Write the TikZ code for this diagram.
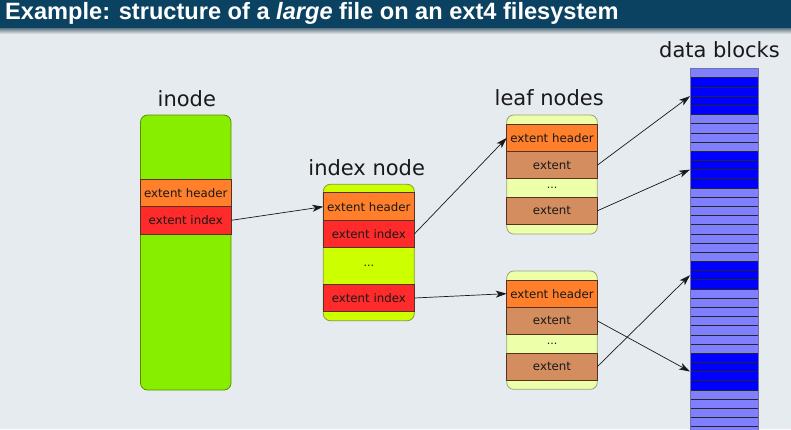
\documentclass[tikz,border=0pt]{standalone}
\usepackage{fontspec}
\setmainfont{DejaVu Sans}
\newfontfamily\titlefont{Liberation Sans}
\usetikzlibrary{arrows.meta}
\definecolor{bgc}{HTML}{E6EBF0}
\definecolor{titlec}{HTML}{0B4261}
\definecolor{inodec}{HTML}{88EE00}
\definecolor{inodeline}{HTML}{5A8F00}
\definecolor{idxnodec}{HTML}{CCFF00}
\definecolor{idxnodeline}{HTML}{8A9A30}
\definecolor{leafc}{HTML}{EEFFAA}
\definecolor{leafline}{HTML}{9AA080}
\definecolor{hdrc}{HTML}{FF7F2A}
\definecolor{idxc}{HTML}{FF2A2A}
\definecolor{extc}{HTML}{D38D5F}
\definecolor{rowline}{HTML}{553322}
\definecolor{lightblk}{HTML}{8080FF}
\definecolor{darkblk}{HTML}{0000FF}
\definecolor{colline}{HTML}{7373A0}
\begin{document}
\begin{tikzpicture}[x=1pt,y=-1pt,
  container/.style={rectangle,rounded corners=7pt,inner sep=0pt,outer sep=0pt,line width=0.8pt},
  rowbox/.style={rectangle,inner sep=0pt,outer sep=0pt,anchor=north,minimum width=#1,draw=rowline,line width=0.6pt,text=black!90,font=\fontsize{11.8}{13}\selectfont},
  dotsbox/.style={rectangle,inner sep=0pt,outer sep=0pt,anchor=north,minimum width=#1,text=black!90,font=\fontsize{11}{12}\selectfont},
  lbl/.style={anchor=base,inner sep=0pt,text=black!90,font=\fontsize{21}{24}\selectfont},
  blk/.style={rectangle,inner sep=0pt,outer sep=0pt,anchor=north west,minimum width=68pt,minimum height=9.18pt},
  sep/.style={line width=0.6pt,draw=black!85},
  ptr/.style={-{Stealth[length=11pt,width=7pt,inset=3pt]},line width=0.7pt,black!90}]
\useasboundingbox (0,0) rectangle (791,429);
\fill[bgc] (0,0) rectangle (791,429);
% title bar
\fill[titlec] (0,0) rectangle (791,28.5);
\shade[top color=titlec!45!gray!80!bgc,bottom color=bgc] (0,28.5) rectangle (791,34);
\node[anchor=base west,inner sep=0pt,text=white,font=\titlefont\bfseries\fontsize{23.6}{26}\selectfont] (title) at (5,19.5) {Example: structure of a \textit{large} file on an ext4 filesystem};

% labels
\node[lbl] (linode) at (186.8,106) {inode};
\node[lbl] (lindex) at (366.7,175) {index node};
\node[lbl] (lleaf) at (549.2,105.7) {leaf nodes};
\node[lbl] (ldata) at (719.5,57.3) {data blocks};

% inode
\node[container,fill=inodec,draw=inodeline,minimum width=90.5pt,minimum height=275pt] (inode) at (185.75,252.5) {};
\node[rowbox=90.5pt,fill=hdrc,minimum height=27.7pt] (inhdr) at (185.75,179) {extent header};
\node[rowbox=90.5pt,fill=idxc,minimum height=27.3pt] (inidx) at (185.75,206.7) {extent index};

% index node
\node[container,fill=idxnodec,draw=idxnodeline,minimum width=91pt,minimum height=136.4pt] (ixnode) at (368.8,252.5) {};
\node[rowbox=91pt,fill=hdrc,minimum height=28pt] (ixhdr) at (368.8,192.7) {extent header};
\node[rowbox=91pt,fill=idxc,minimum height=26.6pt] (ixidxa) at (368.8,220.7) {extent index};
\node[dotsbox=91pt,minimum height=37pt] (ixdots) at (368.8,247.3) {...};
\node[rowbox=91pt,fill=idxc,minimum height=27.4pt] (ixidxb) at (368.8,284.3) {extent index};

% leaf node 1
\node[container,fill=leafc,draw=leafline,minimum width=90.6pt,minimum height=119pt] (leafa) at (552,174.5) {};
\node[rowbox=90.6pt,fill=hdrc,minimum height=27.7pt] (lahdr) at (552,124) {extent header};
\node[rowbox=90.6pt,fill=extc,minimum height=27pt] (laexta) at (552,151.7) {extent};
\node[dotsbox=90.6pt,minimum height=18.6pt] (ladots) at (552,178.7) {...};
\node[rowbox=90.6pt,fill=extc,minimum height=27pt] (laextb) at (552,197.3) {extent};

% leaf node 2
\node[container,fill=leafc,draw=leafline,minimum width=90.6pt,minimum height=118.3pt] (leafb) at (552,330.15) {};
\node[rowbox=90.6pt,fill=hdrc,minimum height=27.3pt] (lbhdr) at (552,280) {extent header};
\node[rowbox=90.6pt,fill=extc,minimum height=27pt] (lbexta) at (552,307.3) {extent};
\node[dotsbox=90.6pt,minimum height=19pt] (lbdots) at (552,334.3) {...};
\node[rowbox=90.6pt,fill=extc,minimum height=26.7pt] (lbextb) at (552,353.3) {extent};

% data blocks
\begin{scope}
\clip (0,0) rectangle (791,429);
\foreach \i in {0,...,40} {
  \node[blk,fill=lightblk] (b\i) at (690,{68.6+9.18*\i}) {};
}
\foreach \i in {1,2,3,4,9,10,11,12,21,22,23,31,32,33,34} {
  \node[blk,fill=darkblk] (b\i) at (690,{68.6+9.18*\i}) {};
}
\foreach \i in {1,...,40} {
  \draw[sep] (b\i.north west) -- (b\i.north east);
}
\draw[colline,line width=0.8pt] (b40.south west) -- (b0.north west) -- (b0.north east) -- (b40.south east);
\end{scope}

% pointers
\draw[ptr] (inidx.east) -- (ixhdr.west);
\draw[ptr] (ixidxa.east) -- (lahdr.west);
\draw[ptr] (ixidxb.east) -- (lbhdr.west);
\draw[ptr] (laexta.east) -- (b3.north west);
\draw[ptr] (laextb.east) -- (b11.north west);
\draw[ptr] (lbexta.east) -- (b33.north west);
\draw[ptr] (lbextb.east) -- (b22.west);
\end{tikzpicture}
\end{document}
